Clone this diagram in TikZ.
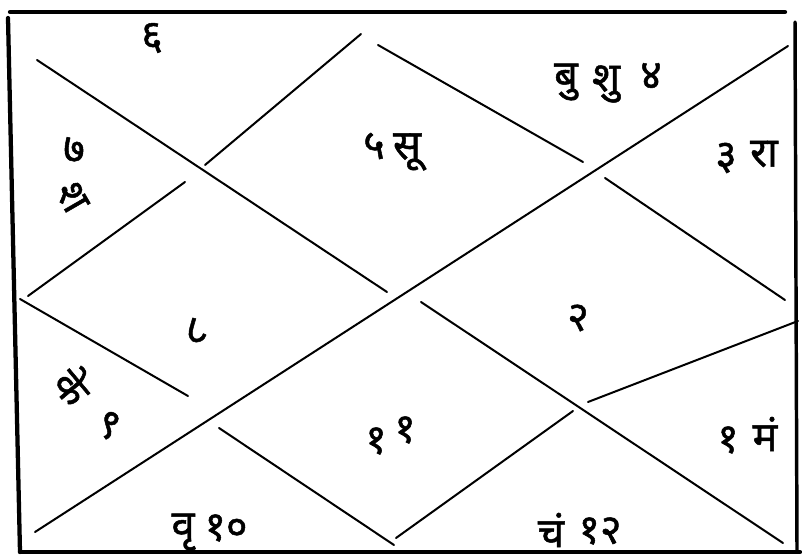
\documentclass[tikz,border=0pt]{standalone}
\usepackage{fontspec}
\newfontfamily\dev[Script=Devanagari,FakeBold=1.2]{Noto Sans}
\begin{document}
\begin{tikzpicture}[x=0.75pt,y=-0.75pt,
  frameline/.style={line width=3.2pt,line cap=round},
  chartline/.style={line width=1.5pt,line cap=round},
  lbl/.style={font=\dev\fontsize{31}{34}\selectfont,inner sep=0pt},
  tight/.style={text height=14pt,text depth=2pt}]
\useasboundingbox (0,0) rectangle (802,559);
% frame
\coordinate (tl) at (10,12); \coordinate (tr) at (785,12);
\coordinate (lt) at (8,18);  \coordinate (lb) at (20,552);
\coordinate (bl) at (20,552); \coordinate (br) at (800,552);
\coordinate (rt) at (795,22); \coordinate (rb) at (797,550);
\draw[frameline] (tl) -- (tr);
\draw[frameline] (lt) -- (lb);
\draw[frameline] (bl) -- (br);
\draw[frameline,line width=2.6pt] (rt) -- (rb);
% main diagonals
\coordinate (a1s) at (37,60);  \coordinate (a1e) at (387,292);
\coordinate (a2s) at (421,302); \coordinate (a2e) at (783,543);
\coordinate (bs) at (35,532);  \coordinate (be) at (788,46);
\draw[chartline] (a1s) -- (a1e);
\draw[chartline] (a2s) -- (a2e);
\draw[chartline] (bs) -- (be);
% diamond
\coordinate (c1s) at (205,165); \coordinate (c1e) at (361,34);
\coordinate (c2s) at (185,182); \coordinate (c2e) at (28,296);
\coordinate (d1s) at (378,45);  \coordinate (d1e) at (583,162);
\coordinate (d2s) at (605,178); \coordinate (d2e) at (785,300);
\coordinate (e1s) at (20,299);  \coordinate (e1e) at (188,396);
\coordinate (e2s) at (219,428); \coordinate (e2e) at (394,545);
\coordinate (f1s) at (396,538); \coordinate (f1e) at (573,411);
\coordinate (f2s) at (588,402); \coordinate (f2e) at (798,321);
\draw[chartline] (c1s) -- (c1e);
\draw[chartline] (c2s) -- (c2e);
\draw[chartline] (d1s) -- (d1e);
\draw[chartline] (d2s) -- (d2e);
\draw[chartline] (e1s) -- (e1e);
\draw[chartline] (e2s) -- (e2e);
\draw[chartline] (f1s) -- (f1e);
\draw[chartline] (f2s) -- (f2e);
% labels
\node[lbl] (six) at (152,38) {६};
\node[lbl] (seven) at (74,150) {७};
\node[lbl,rotate=-60] (sha) at (72,197) {श};
\node[lbl] (five) at (374,146) {५};
\node[lbl] (sun) at (407,152) {सू};
\node[lbl] (bu) at (566,82) {बु};
\node[lbl] (shu) at (606,84) {शु};
\node[lbl] (four) at (651,76) {४};
\node[lbl] (three) at (726,158) {३};
\node[lbl] (ra) at (764,154) {रा};
\node[lbl,rotate=25] (eight) at (195,331) {८};
\node[lbl] (two) at (578,318) {२};
\node[lbl,tight,rotate=-50] (ke) at (66,392) {के};
\node[lbl,tight,rotate=-30] (nine) at (106,429) {९};
\node[lbl] (elevena) at (376,441) {१};
\node[lbl] (elevenb) at (405,430) {१};
\node[lbl] (vr) at (183,532) {वृ};
\node[lbl] (ten) at (226,528) {१०};
\node[lbl] (cham) at (551,530) {चं};
\node[lbl] (twelve) at (600,531) {१२};
\node[lbl] (one) at (728,440) {१};
\node[lbl] (mam) at (765,434) {मं};
\end{tikzpicture}
\end{document}
